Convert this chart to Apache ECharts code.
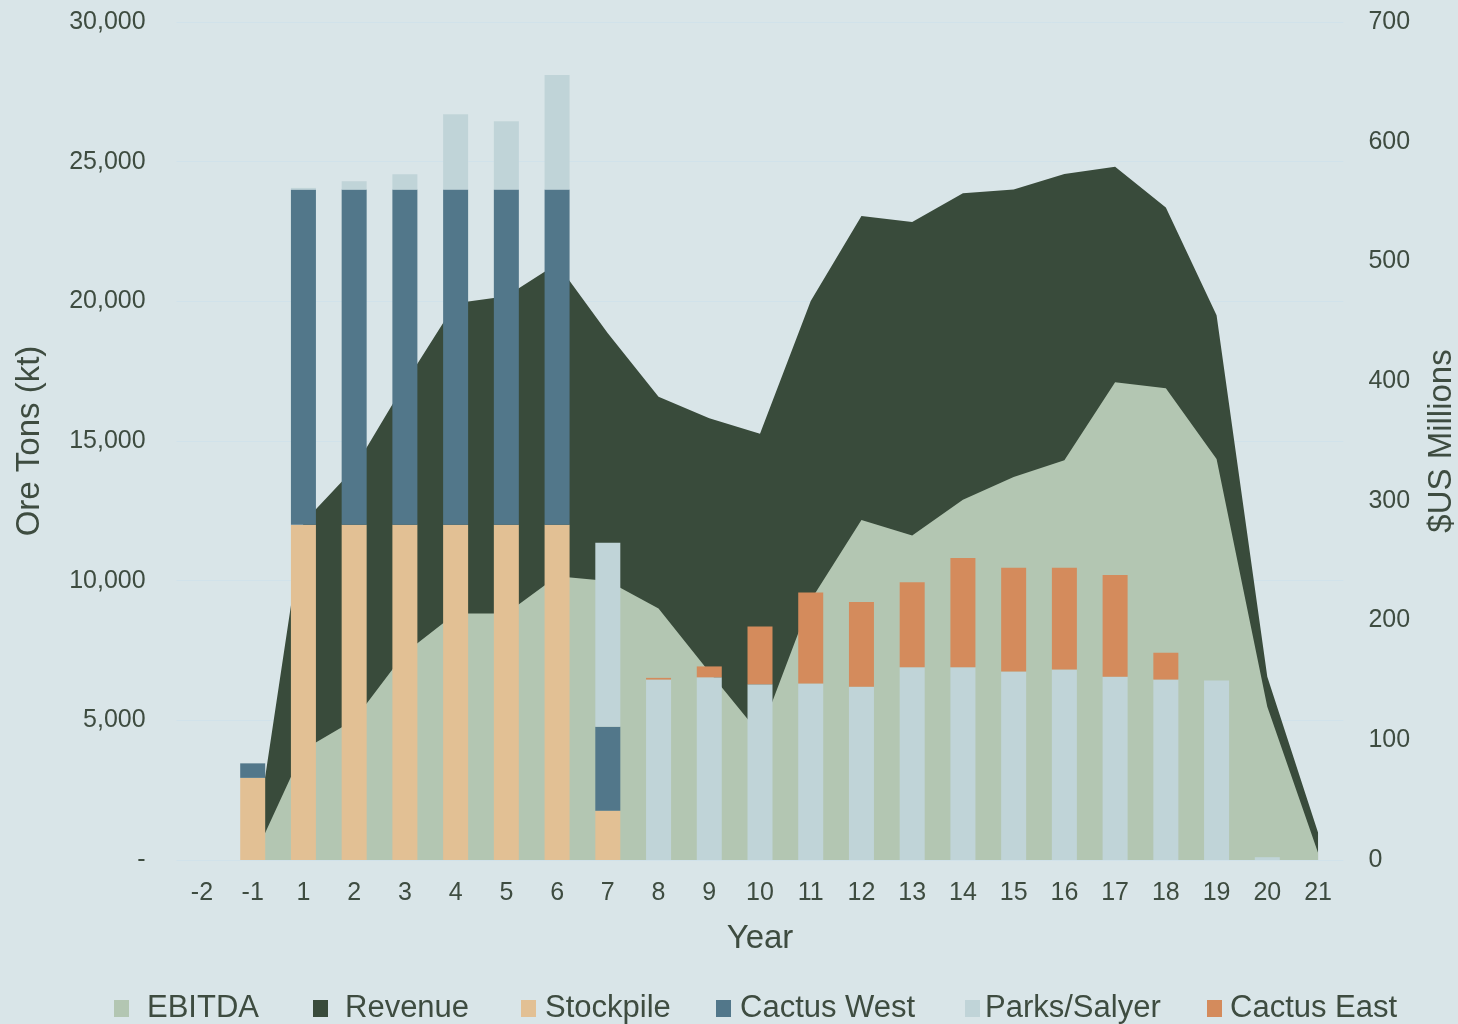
<!DOCTYPE html>
<html>
<head>
<meta charset="utf-8">
<script src="https://cdn.jsdelivr.net/npm/echarts@6/dist/echarts.min.js"></script>
<style>
html,body{margin:0;padding:0;background:#d9e5e8;}
#chart{width:1458px;height:1024px;}
</style>
</head>
<body>
<div id="chart"></div>
<script>
const years = ['-2','-1','1','2','3','4','5','6','7','8','9','10','11','12','13','14','15','16','17','18','19','20','21'];
const ebitda = [null,0,92,117,173,206,206,237,233,210,157,105,217,284,271,301,320,334,399,394,335,128,6];
const revenue = [null,0,282,327,398,465,471,498,440,387,369,356,467,538,533,557,560,573,579,545,455,153,23];
const stockpile = [null,2940,12000,12000,12000,12000,12000,12000,1760,null,null,null,null,null,null,null,null,null,null,null,null,null,null];
const cactusWest = [null,520,12000,12000,12000,12000,12000,12000,3010,null,null,null,null,null,null,null,null,null,null,null,null,null,null];
const parksSalyer = [null,null,60,300,550,2700,2450,4100,6590,6460,6540,6290,6320,6200,6900,6900,6750,6820,6560,6460,6430,100,null];
const cactusEast = [null,null,null,null,null,null,null,null,null,60,390,2070,3260,3040,3040,3910,3710,3640,3640,960,null,null,null];
const leftTicks = [0,5000,10000,15000,20000,25000,30000];
const rightTicks = [0,100,200,300,400,500,600,700];

const TXT = '#3e4c40';
const FONT = "'Liberation Sans', Arial, sans-serif";
const C = {
  ebitda:'#b3c6b2', revenue:'#394b3b', stockpile:'#e2c094',
  cactusWest:'#52778a', parks:'#c0d4d8', cactusEast:'#d48b5c'
};

const chart = echarts.init(document.getElementById('chart'));
function leg(name, left, gap){
  return {
    data:[name], left:left, top:993, itemWidth:15, itemHeight:17,
    icon:'rect', itemGap:0, padding:0,
    textStyle:{color:TXT, fontSize:31, fontFamily:FONT, padding:[0,0,0,gap]}
  };
}
chart.setOption({
  backgroundColor:'#d9e5e8',
  animation:false,
  textStyle:{fontFamily:FONT},
  legend:[
    leg('EBITDA',114,13),
    leg('Revenue',313,12),
    leg('Stockpile',521,4),
    leg('Cactus West',716,4),
    leg('Parks/Salyer',965,0),
    leg('Cactus East',1207,3)
  ],
  grid:{left:176.6, right:114.6, top:22, bottom:164, outerBoundsMode:'none', containLabel:false},
  xAxis:{
    type:'category', data:years, boundaryGap:true,
    axisLine:{show:false}, axisTick:{show:false},
    axisLabel:{color:TXT, fontSize:25, margin:21, interval:0},
    name:'Year', nameLocation:'middle', nameGap:62,
    nameTextStyle:{color:TXT, fontSize:33}
  },
  yAxis:[
    {
      type:'value', min:leftTicks[0], max:leftTicks[leftTicks.length-1], interval:5000,
      axisLine:{show:false}, axisTick:{show:false},
      axisLabel:{color:TXT, fontSize:25, margin:31,
        formatter:v=> v===0 ? '-' : v.toLocaleString('en-US')},
      splitLine:{show:true, lineStyle:{color:'#d1e2ea', width:1}},
      name:'Ore Tons (kt)', nameLocation:'middle', nameGap:130,
      nameTextStyle:{color:TXT, fontSize:33}
    },
    {
      type:'value', min:rightTicks[0], max:rightTicks[rightTicks.length-1], interval:100,
      position:'right',
      axisLine:{show:false}, axisTick:{show:false},
      axisLabel:{color:TXT, fontSize:25, margin:25},
      splitLine:{show:false},
      name:'$US Millions', nameLocation:'middle', nameGap:82, nameRotate:90,
      nameTextStyle:{color:TXT, fontSize:33}
    }
  ],
  series:[
    {name:'Revenue', type:'line', yAxisIndex:1, data:revenue, symbol:'none',
     lineStyle:{width:0}, areaStyle:{color:C.revenue, opacity:1}, itemStyle:{color:C.revenue}, z:1},
    {name:'EBITDA', type:'line', yAxisIndex:1, data:ebitda, symbol:'none',
     lineStyle:{width:0}, areaStyle:{color:C.ebitda, opacity:1}, itemStyle:{color:C.ebitda}, z:2},
    {name:'Stockpile', type:'bar', stack:'ore', data:stockpile, barWidth:25, itemStyle:{color:C.stockpile}, z:3},
    {name:'Cactus West', type:'bar', stack:'ore', data:cactusWest, barWidth:25, itemStyle:{color:C.cactusWest}, z:3},
    {name:'Parks/Salyer', type:'bar', stack:'ore', data:parksSalyer, barWidth:25, itemStyle:{color:C.parks}, z:3},
    {name:'Cactus East', type:'bar', stack:'ore', data:cactusEast, barWidth:25, itemStyle:{color:C.cactusEast}, z:3}
  ]
});
</script>
</body>
</html>
